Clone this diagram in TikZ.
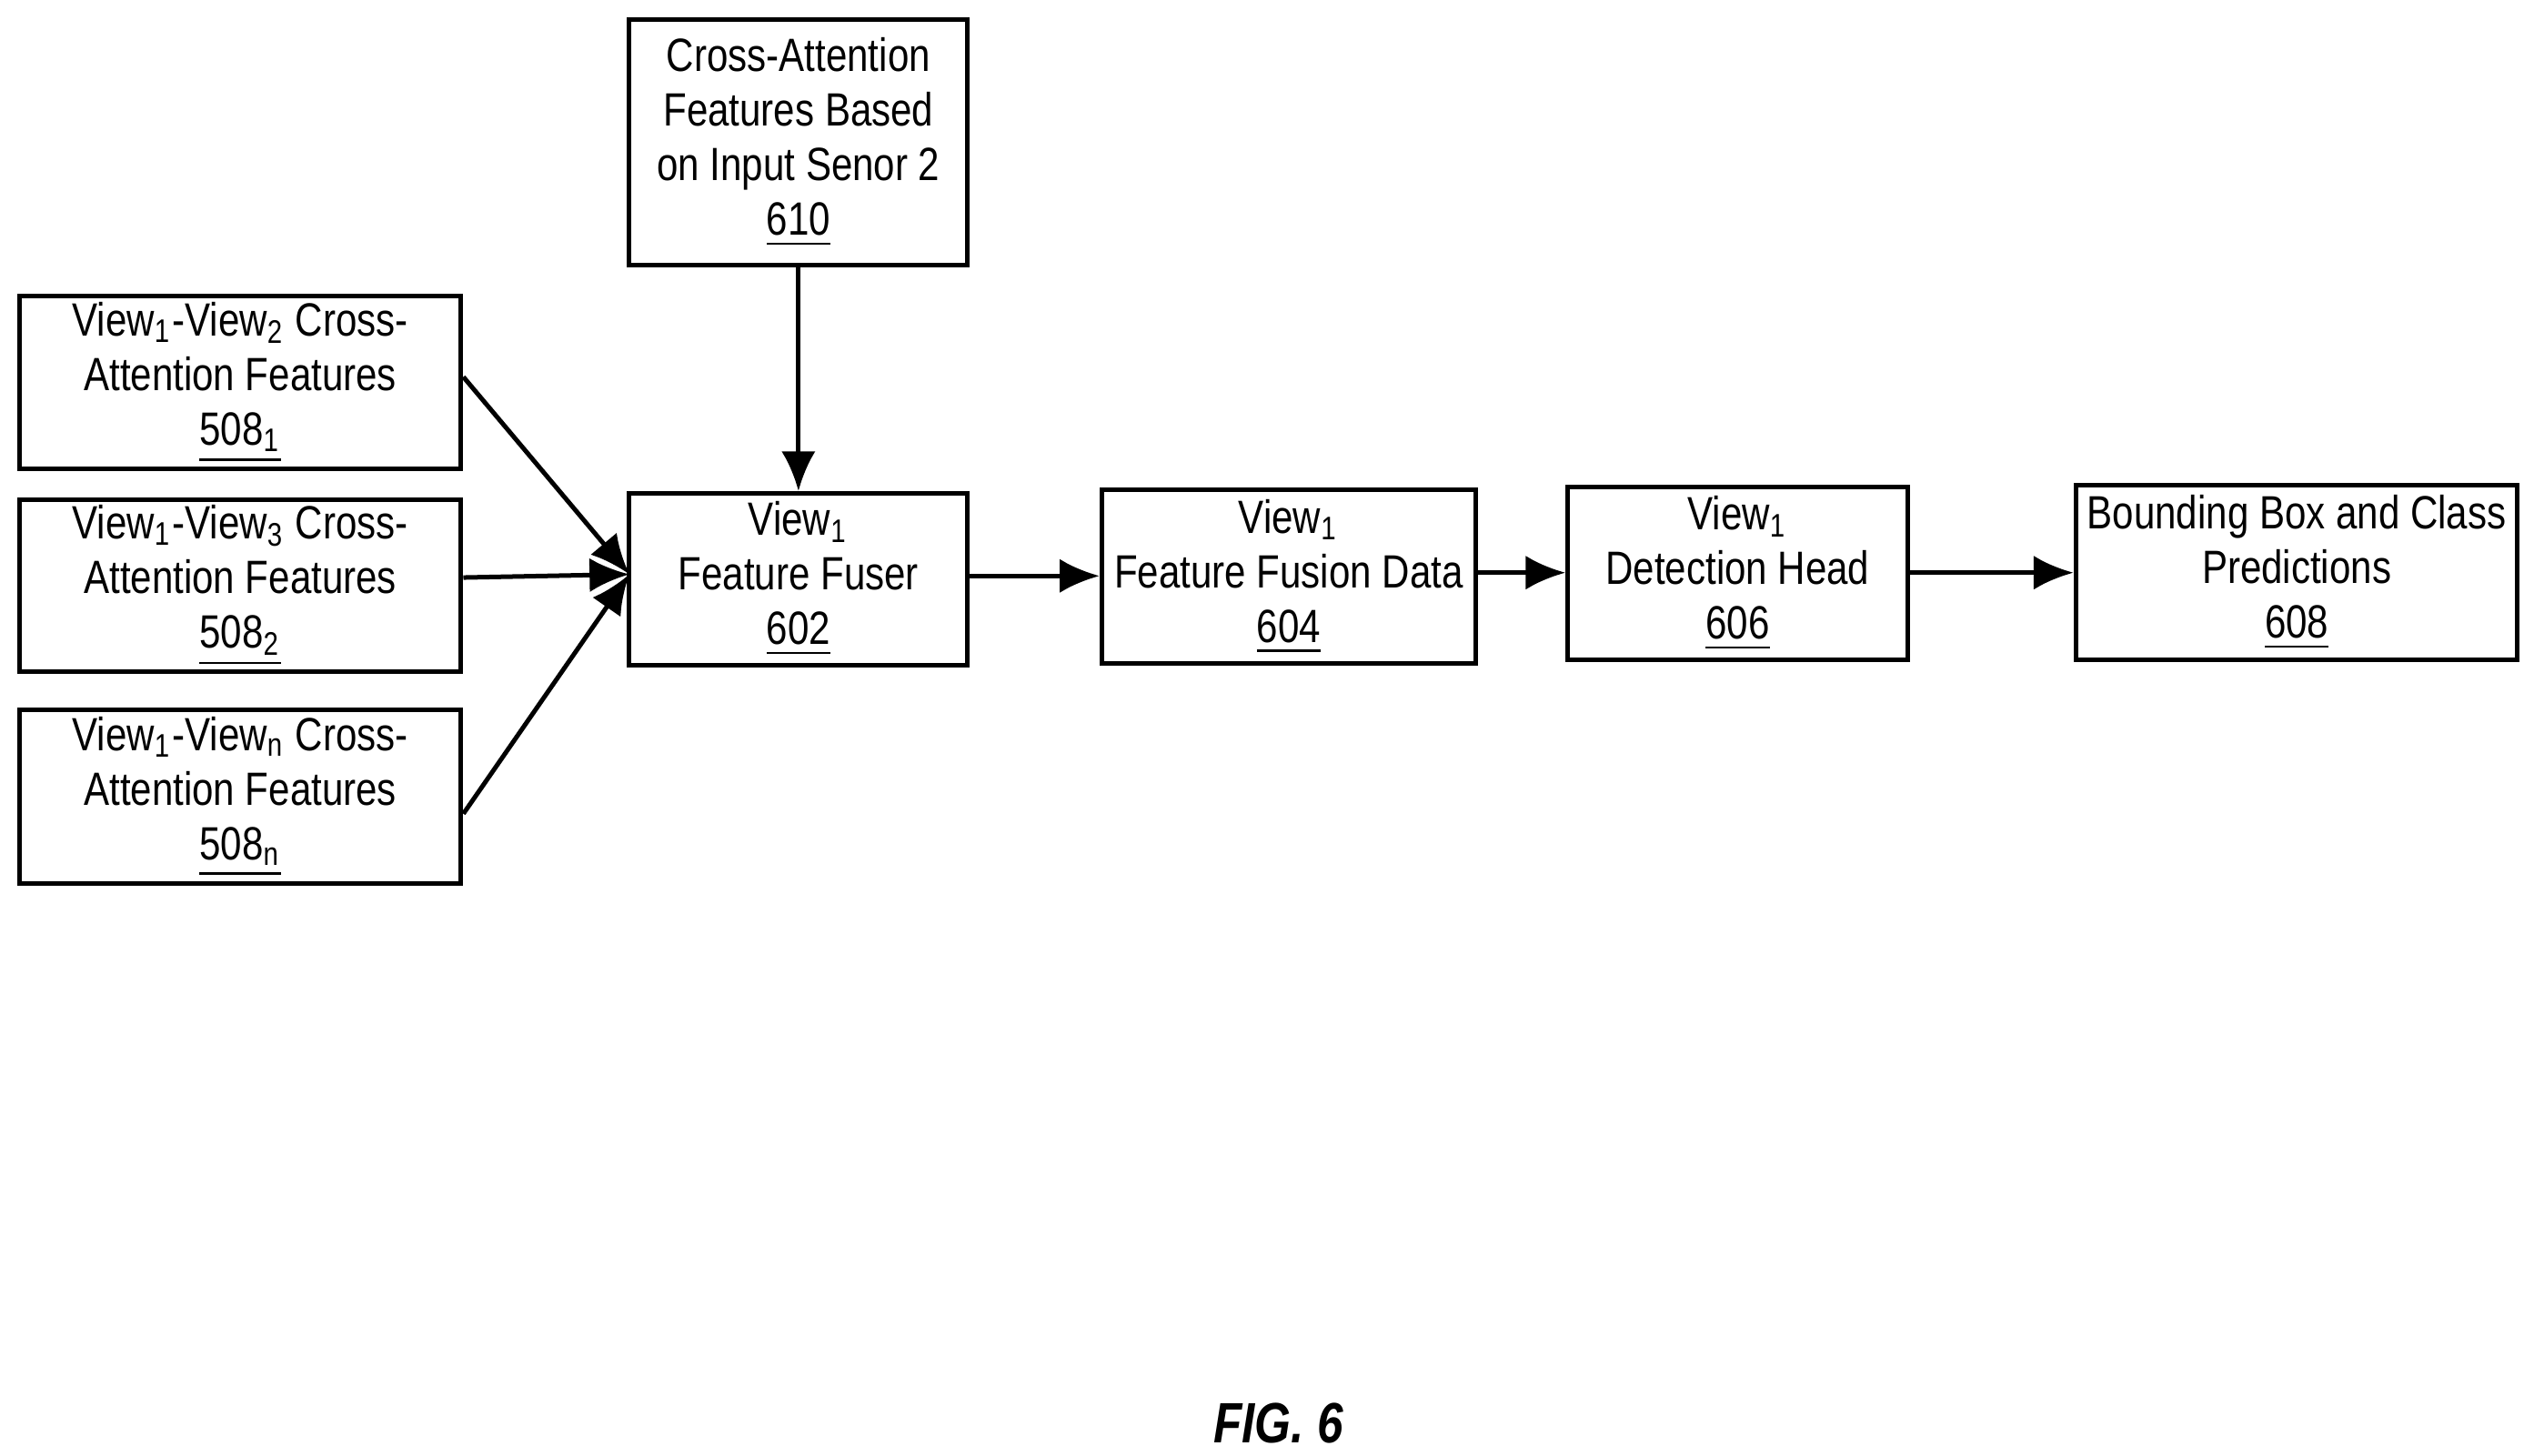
\documentclass[tikz,border=0pt]{standalone}
\usepackage{fontspec}
\setmainfont{Liberation Sans}[FakeStretch=0.82]
\usetikzlibrary{arrows.meta}
\begin{document}
\begin{tikzpicture}[x=0.01cm,y=-0.01cm,
 box/.style={draw,line width=0.8pt,align=center,inner sep=0pt,font=\fontsize{8.2}{9.6}\selectfont},
 arr/.style={-{Latex[length=7pt,width=6pt]},line width=0.8pt}]
\useasboundingbox (0,0) rectangle (1560,900);
\newcommand{\bx}[6]{\node[box,minimum width={(#4-#2)*0.01cm},minimum height={(#5-#3)*0.01cm}] (#1) at ({(#2+#4)/2},{(#3+#5)/2}) {#6};}
\bx{n610}{389}{12}{598}{164}{Cross-Attention\\Features Based\\on Input Senor 2\\\underline{610}}
\bx{a}{12}{183}{285}{290}{View\textsubscript{1}-View\textsubscript{2} Cross-\\Attention Features\\\underline{508\textsubscript{1}}}
\bx{b}{12}{309}{285}{415}{View\textsubscript{1}-View\textsubscript{3} Cross-\\Attention Features\\\underline{508\textsubscript{2}}}
\bx{c}{12}{439}{285}{546}{View\textsubscript{1}-View\textsubscript{n} Cross-\\Attention Features\\\underline{508\textsubscript{n}}}
\bx{n602}{389}{305}{598}{411}{View\textsubscript{1}\\Feature Fuser\\\underline{602}}
\bx{n604}{681}{303}{912}{410}{View\textsubscript{1}\\Feature Fusion Data\\\underline{604}}
\bx{n606}{969}{301}{1179}{408}{View\textsubscript{1}\\Detection Head\\\underline{606}}
\bx{n608}{1283}{300}{1556}{408}{Bounding Box and Class\\Predictions\\\underline{608}}
\coordinate (t) at (389,355);
\draw[arr] (n610) -- (n602);
\draw[arr] (a.east|-0,233) -- (t);
\draw[arr] (b.east|-0,357) -- (t);
\draw[arr] (c.east|-0,503) -- (t);
\draw[arr] (n602.east|-0,356) -- (n604.west|-0,356);
\draw[arr] (n604.east|-0,354) -- (n606.west|-0,354);
\draw[arr] (n606.east|-0,354) -- (n608.west|-0,354);
\node[font=\fontsize{10}{12}\selectfont\bfseries\itshape] (fig) at (790,880) {FIG. 6};
\end{tikzpicture}
\end{document}
